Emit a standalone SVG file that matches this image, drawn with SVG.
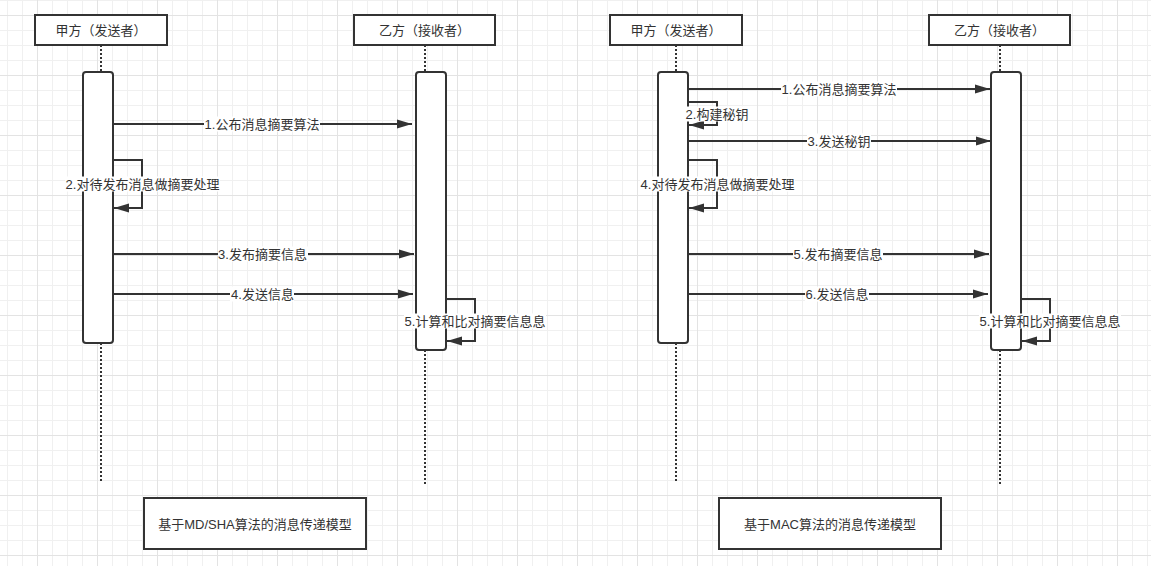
<svg xmlns="http://www.w3.org/2000/svg" width="1151" height="566" viewBox="0 0 1151 566">
<style>
.box{fill:#fff;stroke:#333;stroke-width:2}
.act{fill:#fff;stroke:#333;stroke-width:2}
.life{fill:none;stroke:#333;stroke-width:2;stroke-dasharray:2 2}
.ln{fill:none;stroke:#333;stroke-width:2}
.t{font-family:"Liberation Sans","Noto Sans CJK SC",sans-serif;font-size:13px;fill:#333;text-anchor:middle;dominant-baseline:central}
.bg{fill:#fff}
</style>
<defs>
<pattern id="gMinor" x="7" y="0" width="15" height="15" patternUnits="userSpaceOnUse">
<rect x="0" y="0" width="1" height="15" fill="#f0f0f0"/>
<rect x="0" y="0" width="15" height="1" fill="#f0f0f0"/>
</pattern>
<pattern id="gMajor" x="37" y="15" width="60" height="60" patternUnits="userSpaceOnUse">
<rect x="0" y="0" width="1" height="60" fill="#e3e3e3"/>
<rect x="0" y="0" width="60" height="1" fill="#e3e3e3"/>
</pattern>
<marker id="arr" markerWidth="16" markerHeight="10" refX="15" refY="5" orient="auto" markerUnits="userSpaceOnUse">
<path d="M0,0.5 L15,5 L0,9.5 Z" fill="#333"/>
</marker>
</defs>
<rect width="1151" height="566" fill="#fff"/>
<rect width="1151" height="566" fill="url(#gMinor)"/>
<rect width="1151" height="566" fill="url(#gMajor)"/>

<!-- Left diagram -->
<g id="left-sender">
<path class="life" d="M101,45 V72 M101,343 V482"/>
<rect class="box" x="35" y="15" width="132" height="30"/>
<text class="t" x="101" y="30">甲方（发送者）</text>
<rect class="act" x="83" y="72" width="30" height="271" rx="3"/>
</g>
<g id="left-receiver">
<path class="life" d="M425,45 V72 M425,350 V486"/>
<rect class="box" x="354" y="15" width="141" height="30"/>
<text class="t" x="424.5" y="30">乙方（接收者）</text>
<rect class="act" x="416" y="72" width="30" height="278" rx="3"/>
</g>
<g id="left-caption">
<rect class="box" x="144" y="498" width="222" height="51"/>
<text class="t" x="255" y="524">基于MD/SHA算法的消息传递模型</text>
</g>

<!-- Right diagram -->
<g id="right-sender">
<path class="life" d="M676,45 V72 M676,343 V482"/>
<rect class="box" x="610" y="15" width="132" height="30"/>
<text class="t" x="676" y="30">甲方（发送者）</text>
<rect class="act" x="658" y="72" width="30" height="271" rx="3"/>
</g>
<g id="right-receiver">
<path class="life" d="M1000,45 V72 M1000,350 V486"/>
<rect class="box" x="929" y="15" width="141" height="30"/>
<text class="t" x="999.5" y="30">乙方（接收者）</text>
<rect class="act" x="991" y="72" width="30" height="278" rx="3"/>
</g>
<g id="right-caption">
<rect class="box" x="719" y="498" width="222" height="51"/>
<text class="t" x="830" y="524">基于MAC算法的消息传递模型</text>
</g>

<g id="connectors">
<!-- left -->
<path class="ln" d="M113,124 H412" marker-end="url(#arr)"/>
<rect class="bg" x="204" y="116.5" width="116" height="15"/>
<text class="t" x="262" y="124">1.公布消息摘要算法</text>

<path class="ln" d="M113,160 H142 V208 H114" marker-end="url(#arr)"/>
<rect class="bg" x="65" y="176.5" width="155" height="15"/>
<text class="t" x="142.5" y="184">2.对待发布消息做摘要处理</text>

<path class="ln" d="M113,254 H414" marker-end="url(#arr)"/>
<rect class="bg" x="218" y="246.5" width="90" height="15"/>
<text class="t" x="262.5" y="254">3.发布摘要信息</text>

<path class="ln" d="M113,294 H413" marker-end="url(#arr)"/>
<rect class="bg" x="230" y="286.5" width="64" height="15"/>
<text class="t" x="262.5" y="294">4.发送信息</text>

<path class="ln" d="M446,299 H475 V341 H447" marker-end="url(#arr)"/>
<rect class="bg" x="404" y="313.5" width="142" height="15"/>
<text class="t" x="475" y="321">5.计算和比对摘要信息息</text>

<!-- right -->
<path class="ln" d="M688,89 H990" marker-end="url(#arr)"/>
<rect class="bg" x="781" y="81.5" width="116" height="15"/>
<text class="t" x="839" y="89">1.公布消息摘要算法</text>

<path class="ln" d="M688,102 H717 V125 H689" marker-end="url(#arr)"/>
<rect class="bg" x="685" y="106.5" width="64" height="15"/>
<text class="t" x="717" y="114">2.构建秘钥</text>

<path class="ln" d="M688,141 H991" marker-end="url(#arr)"/>
<rect class="bg" x="807" y="133.5" width="64" height="15"/>
<text class="t" x="839" y="141">3.发送秘钥</text>

<path class="ln" d="M688,160 H717 V208 H689" marker-end="url(#arr)"/>
<rect class="bg" x="640" y="176.5" width="155" height="15"/>
<text class="t" x="717.5" y="184">4.对待发布消息做摘要处理</text>

<path class="ln" d="M688,254 H989" marker-end="url(#arr)"/>
<rect class="bg" x="793" y="246.5" width="90" height="15"/>
<text class="t" x="838" y="254">5.发布摘要信息</text>

<path class="ln" d="M688,294 H988" marker-end="url(#arr)"/>
<rect class="bg" x="805" y="286.5" width="64" height="15"/>
<text class="t" x="837" y="294">6.发送信息</text>

<path class="ln" d="M1021,299 H1050 V341 H1022" marker-end="url(#arr)"/>
<rect class="bg" x="979" y="313.5" width="142" height="15"/>
<text class="t" x="1050" y="321">5.计算和比对摘要信息息</text>
</g>
</svg>
